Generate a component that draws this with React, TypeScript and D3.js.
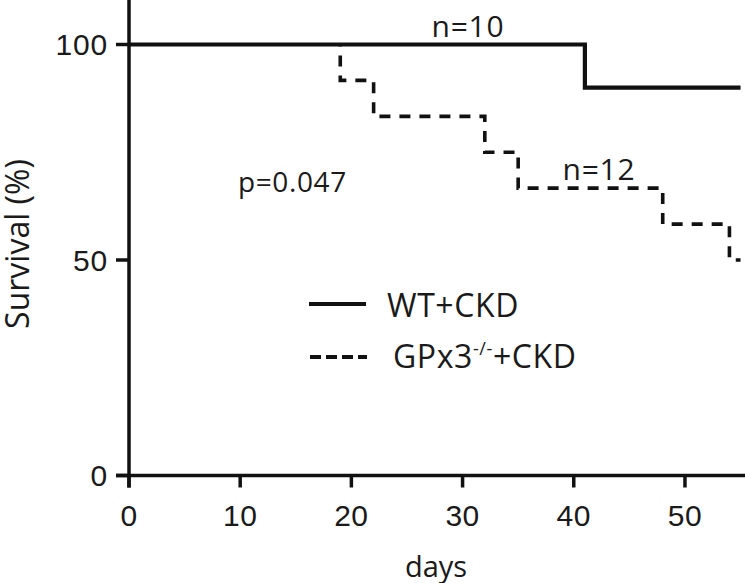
import React from "react";
import * as d3 from "d3";

const wtDays = [0, 41, 55];
const wtSurvival = [100, 90, 90];
const koDays = [0, 19, 22, 32, 35, 48, 54, 55];
const koSurvival = [100, 91.67, 83.33, 75, 66.67, 58.33, 50, 50];
const xTicks = [0, 10, 20, 30, 40, 50];
const yTicks = [0, 50, 100];

const W = 745;
const H = 583;

export default function App() {
  const x = d3.scaleLinear().domain([0, 55.4]).range([129, 745]);
  const y = d3.scaleLinear().domain([0, 100]).range([475.5, 44.5]);
  const line = d3
    .line<[number, number]>()
    .x((d) => x(d[0]))
    .y((d) => y(d[1]))
    .curve(d3.curveStepAfter);
  const wt = wtDays.map((d, i) => [d, wtSurvival[i]] as [number, number]);
  const koAll = koDays.map((d, i) => [d, koSurvival[i]] as [number, number]);
  // the dashed curve's initial 100% stretch lies under the solid curve; draw from first event
  const ko: [number, number][] = [[koDays[1], koSurvival[0]], ...koAll.slice(1)];
  const sans = "'Open Sans', sans-serif";
  const arial = "'Liberation Sans', Arial, sans-serif";
  const ink = "#111";
  const txt = "#1a1a1a";
  return (
    <svg
      width={W}
      height={H}
      style={{ position: "absolute", left: 0, top: 0, background: "#fff" }}
    >
      <path d={line(wt) || ""} fill="none" stroke={ink} strokeWidth={4.2} />
      <path
        d={line(ko) || ""}
        fill="none"
        stroke={ink}
        strokeWidth={3.6}
        strokeDasharray="11,9"
        strokeDashoffset={-11}
      />
      {/* axes */}
      <line x1={x(0)} x2={x(0)} y1={0} y2={y(0) + 12} stroke={ink} strokeWidth={3.5} />
      <line x1={x(0) - 13} x2={W} y1={y(0)} y2={y(0)} stroke={ink} strokeWidth={3.5} />
      {yTicks.map((t) => (
        <g key={"y" + t}>
          <line x1={x(0) - 13} x2={x(0)} y1={y(t)} y2={y(t)} stroke={ink} strokeWidth={3.5} />
          <text
            x={108}
            y={y(t)}
            dy="0.36em"
            textAnchor="end"
            fontFamily={arial}
            fontSize={30}
            letterSpacing={0.8}
            fill={txt}
          >
            {t}
          </text>
        </g>
      ))}
      {xTicks.map((t) => (
        <g key={"x" + t}>
          <line x1={x(t)} x2={x(t)} y1={y(0)} y2={y(0) + 12} stroke={ink} strokeWidth={3.5} />
          <text
            x={x(t)}
            y={526}
            textAnchor="middle"
            fontFamily={arial}
            fontSize={30}
            letterSpacing={0.5}
            fill={txt}
          >
            {t}
          </text>
        </g>
      ))}
      <text x={436} y={577} textAnchor="middle" fontFamily={sans} fontSize={29} fill={txt}>
        days
      </text>
      <text
        transform="translate(29,244) rotate(-90)"
        textAnchor="middle"
        fontFamily={sans}
        fontSize={32}
        fill={txt}
      >
        Survival (%)
      </text>
      <text x={468} y={37} textAnchor="middle" fontFamily={sans} fontSize={30} letterSpacing={0.8} fill={txt}>
        n=10
      </text>
      <text x={599} y={180} textAnchor="middle" fontFamily={sans} fontSize={30} letterSpacing={0.8} fill={txt}>
        n=12
      </text>
      <text x={238} y={192} fontFamily={sans} fontSize={28} letterSpacing={0.6} fill={txt}>
        p=0.047
      </text>
      {/* legend */}
      <line x1={309} x2={366} y1={304} y2={304} stroke={ink} strokeWidth={4} />
      <text x={387} y={317} fontFamily={sans} fontSize={32} letterSpacing={0.6} fill={txt}>
        WT+CKD
      </text>
      <line x1={310} x2={367} y1={357} y2={357} stroke={ink} strokeWidth={4} strokeDasharray="11,5" />
      <text x={393} y={368} fontFamily={sans} fontSize={32} letterSpacing={0.6} fill={txt}>
        GPx3
        <tspan fontSize={18} dy={-13}>-/-</tspan>
        <tspan dy={13}>+CKD</tspan>
      </text>
    </svg>
  );
}
